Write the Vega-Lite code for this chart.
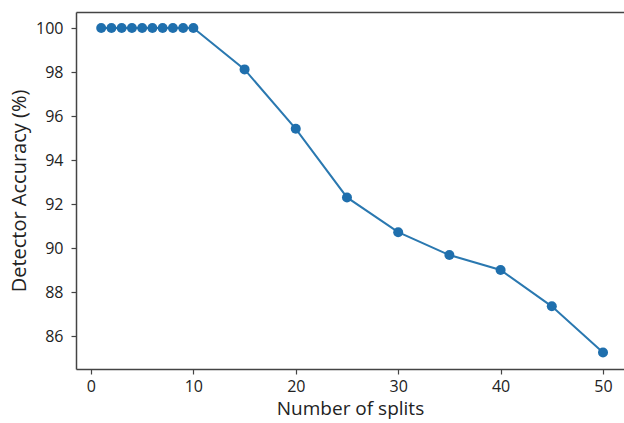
{
  "$schema": "https://vega.github.io/schema/vega-lite/v6.json",
  "width": 548,
  "height": 357,
  "autosize": {"type": "none"},
  "padding": {"left": 76, "top": 12, "right": 0, "bottom": 54},
  "background": "white",
  "config": {
    "view": {"stroke": null},
    "axis": {
      "labelFont": "Open Sans",
      "titleFont": "Open Sans",
      "labelFontSize": 16,
      "titleFontSize": 19,
      "titleFontWeight": "normal",
      "labelColor": "#222222",
      "titleColor": "#222222",
      "domainColor": "#444444",
      "domainWidth": 1.5,
      "tickColor": "#444444",
      "tickWidth": 1.2,
      "tickSize": 5,
      "grid": false
    }
  },
  "data": {
    "values": [
      {"splits": 1, "acc": 100},
      {"splits": 2, "acc": 100},
      {"splits": 3, "acc": 100},
      {"splits": 4, "acc": 100},
      {"splits": 5, "acc": 100},
      {"splits": 6, "acc": 100},
      {"splits": 7, "acc": 100},
      {"splits": 8, "acc": 100},
      {"splits": 9, "acc": 100},
      {"splits": 10, "acc": 100},
      {"splits": 15, "acc": 98.12},
      {"splits": 20, "acc": 95.42},
      {"splits": 25, "acc": 92.3},
      {"splits": 30, "acc": 90.72},
      {"splits": 35, "acc": 89.68},
      {"splits": 40, "acc": 89.0},
      {"splits": 45, "acc": 87.35},
      {"splits": 50, "acc": 85.25}
    ]
  },
  "encoding": {
    "y": {
      "field": "acc",
      "type": "quantitative",
      "scale": {"domain": [84.5, 100.73], "nice": false, "zero": false},
      "axis": {"values": [86, 88, 90, 92, 94, 96, 98, 100], "title": "Detector Accuracy (%)", "titleFontSize": 20, "labelPadding": 8, "titlePadding": 6}
    }
  },
  "layer": [
    {
      "mark": {"type": "line", "color": "#2a78b0", "strokeWidth": 2},
      "encoding": {
        "x": {
          "field": "splits",
          "type": "quantitative",
          "scale": {"domain": [-1.46, 52.05], "nice": false, "zero": false},
          "axis": {"values": [0, 10, 20, 30, 40, 50], "title": "Number of splits", "labelPadding": 4, "titlePadding": 5}
        }
      }
    },
    {
      "mark": {"type": "point", "filled": true, "opacity": 1, "color": "#1f6fad", "size": 100},
      "encoding": {
        "x": {
          "field": "splits",
          "type": "quantitative",
          "axis": {"orient": "top", "labels": false, "ticks": false, "title": null, "domain": true}
        }
      }
    }
  ],
  "resolve": {"axis": {"x": "independent"}}
}
